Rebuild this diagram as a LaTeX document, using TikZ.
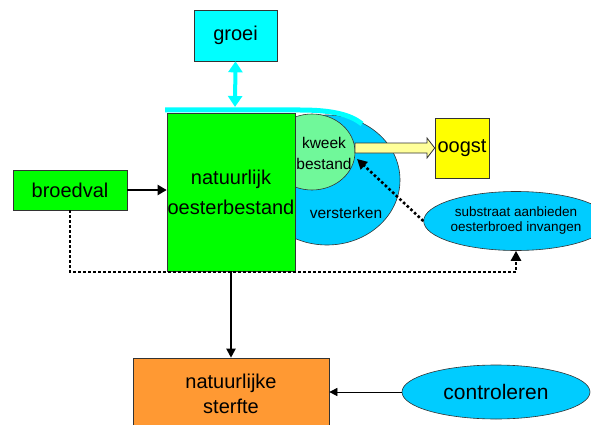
\documentclass[tikz,border=0pt]{standalone}
\usepackage{fontspec}
\setmainfont{Liberation Sans}
\usetikzlibrary{arrows.meta}
\usetikzlibrary{shapes.geometric}
\usetikzlibrary{calc}

\definecolor{grasgroen}{HTML}{00FF00}
\definecolor{lichtgroen}{HTML}{70F89A}
\definecolor{hemelblauw}{HTML}{00CCFF}
\definecolor{aqua}{HTML}{00FFFF}
\definecolor{oranje}{HTML}{FF9933}
\definecolor{geel}{HTML}{FFFF00}
\definecolor{bleekgeel}{HTML}{FFFF99}

\tikzset{
  blok/.style={draw=black!80, semithick, inner sep=0pt, align=center},
  eivorm/.style={ellipse, draw=black!80, semithick, fill=hemelblauw, inner sep=0pt, align=center},
  groot/.style={font=\fontsize{20}{30}\selectfont},
  stip/.style={line width=2.6pt, dash pattern=on 2.6pt off 2.4pt},
}

\begin{document}
\begin{tikzpicture}[x=1pt,y=-1pt]
	\useasboundingbox (0,0) rectangle (591,425);

	% Versterken en kweekbestand
	\node[eivorm, minimum width=146pt, minimum height=130pt] (versterken) at (327,180) {};
	\node[font=\fontsize{15.5}{20}\selectfont] (versterkentekst) at (346,213) {versterken};
	\node[eivorm, fill=lichtgroen, minimum width=86pt, minimum height=76pt,
		font=\fontsize{15.5}{22}\selectfont] (kweek) at (312,152) {};
	\node[font=\fontsize{15.5}{21}\selectfont, align=center] (kweektekst) at (324,153) {kweek\\bestand};

	% Natuurlijk bestand
	\node[blok, groot, fill=grasgroen, minimum width=128pt, minimum height=158pt] (bestand) at (231,192)
		{natuurlijk\\oesterbestand};

	% Groei
	\node[blok, groot, fill=aqua, minimum width=83pt, minimum height=51pt] (groei) at (235.5,35.5) {groei};
	\coordinate (groeilijn) at (235,107);
	\draw[line width=5pt, aqua] (165,110) -- (300,110) .. controls (330,110) and (350,114) .. (362,124);
	\draw[line width=4pt, aqua, {Triangle[width=14pt,length=11pt]}-{Triangle[width=14pt,length=11pt]}]
		(groei.south) -- (groeilijn);

	% Broedval
	\node[blok, groot, fill=grasgroen, minimum width=114pt, minimum height=40pt] (broedval) at (70,190) {broedval};
	\draw[line width=2pt, -{Triangle[width=10pt,length=9pt]}] (broedval.east) -- (bestand.west |- broedval.east);

	% Oogst
	\node[blok, groot, fill=geel, minimum width=54pt, minimum height=60pt] (oogst) at (462,148) {oogst};
	\coordinate (pijlstart) at (355,148);
	\draw[draw=black!80, thick, fill=bleekgeel]
		($(pijlstart)+(0,-5)$) -- (427,143) -- (427,138) -- (oogst.west) -- (427,158) -- (427,153)
		-- ($(pijlstart)+(0,5)$) -- cycle;

	% Substraat
	\node[eivorm, minimum width=147pt, minimum height=59pt, font=\fontsize{13.5}{15}\selectfont]
		(substraat) at (516,221) {substraat aanbieden\\oesterbroed invangen};
	\coordinate (kweekpunt) at (357,159);
	\draw[stip, -{Triangle[width=10pt,length=10pt]}] (substraat.west) -- (kweekpunt);

	% Gestippelde lijn onderaan
	\coordinate (hoek) at (516,272);
	\draw[stip, -{Triangle[width=10pt,length=10pt]}] (broedval.south) |- (hoek) -- (substraat.south);

	% Sterfte
	\node[blok, font=\fontsize{20}{25}\selectfont, fill=oranje, minimum width=196pt, minimum height=72pt]
		(sterfte) at (231,394) {natuurlijke\\sterfte};
	\draw[line width=2pt, -{Triangle[width=9pt,length=9pt]}] (bestand.south) -- (sterfte.north);

	% Controleren
	\node[eivorm, font=\fontsize{21}{25}\selectfont, minimum width=188pt, minimum height=54pt]
		(controleren) at (496,392) {controleren};
	\draw[-{Triangle[width=8pt,length=8pt]}] (controleren.west) -- (sterfte.east |- controleren.west);
\end{tikzpicture}
\end{document}
